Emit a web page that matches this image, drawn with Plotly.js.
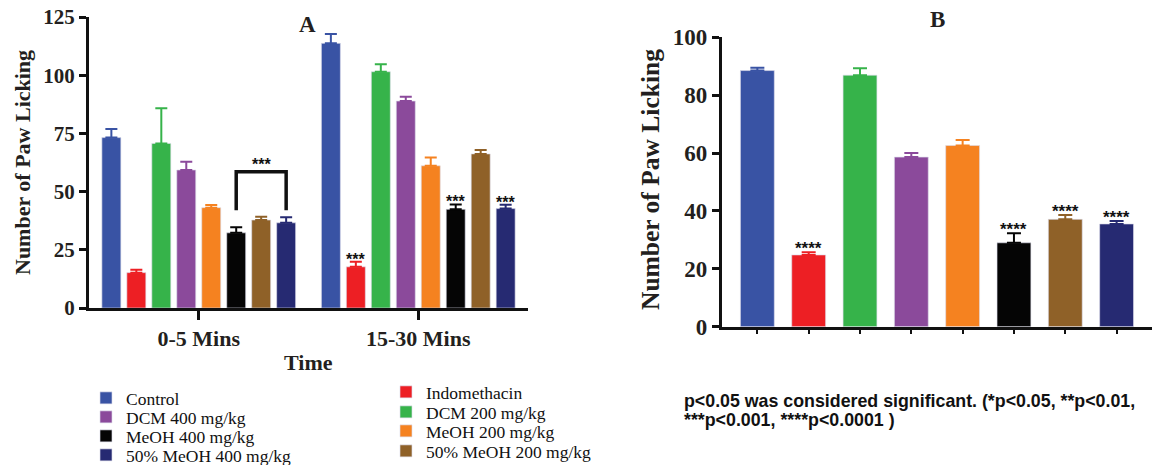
<!DOCTYPE html>
<html>
<head>
<meta charset="utf-8">
<script src="https://cdn.plot.ly/plotly-3.0.1.min.js"></script>
<style>html,body{margin:0;padding:0;background:#fff;}#chart{width:1162px;height:465px;}</style>
</head>
<body>
<div id="chart"></div>
<script>
// ---- data ----
const groups = ['Control', 'Indomethacin', 'DCM 200 mg/kg', 'DCM 400 mg/kg', 'MeOH 200 mg/kg', 'MeOH 400 mg/kg', '50% MeOH 200 mg/kg', '50% MeOH 400 mg/kg'];
const timeCats = ['0-5 Mins', '15-30 Mins'];
const earlyMean = [73.2, 15.2, 70.7, 59.3, 43.1, 32.3, 37.8, 36.6];
const earlyErr = [3.7, 1.2, 15.1, 3.5, 1.1, 2.4, 1.4, 2.4];
const lateMean = [113.7, 17.7, 101.5, 88.9, 61.1, 42.4, 66.2, 42.7];
const lateErr = [4.0, 2.2, 3.2, 1.9, 3.6, 2.1, 1.7, 1.7];
const totalMean = [88.5, 24.8, 86.9, 58.6, 62.6, 29.0, 37.1, 35.5];
const totalErr = [1.0, 0.9, 2.4, 1.4, 1.9, 3.3, 1.5, 1.0];
const starsLate = ['', '***', '', '', '', '***', '', '***'];
const starsTotal = ['', '****', '', '', '', '****', '****', '****'];
const colors = ['#3953a4', '#ed1f24', '#36b34a', '#8b4a9b', '#f58220', '#050505', '#8f6128', '#262a72'];
// legend layout: each entry in its own legend box (column, row)
const legendSlot = [[0, 0], [1, 0], [1, 1], [0, 1], [1, 2], [0, 2], [1, 3], [0, 3]];

const SERIF = 'Liberation Serif, Times New Roman, serif';
const SANS = 'Liberation Sans, Arial, sans-serif';
const bargap = 0.09;
const slot = (1 - bargap) / groups.length;
const legendIds = groups.map((g, i) => i === 0 ? 'legend' : 'legend' + (i + 1));

const traces = [];
groups.forEach((g, i) => {
  traces.push({
    type: 'bar', name: g, x: timeCats, y: [earlyMean[i], lateMean[i]],
    xaxis: 'x', yaxis: 'y', legend: legendIds[i],
    marker: {color: colors[i], line: {color: 'rgba(220,220,235,0.8)', width: 0.8}},
    error_y: {type: 'data', symmetric: false, array: [earlyErr[i], lateErr[i]], arrayminus: [0, 0],
              color: colors[i], thickness: 2, width: 6}
  });
});
groups.forEach((g, i) => {
  traces.push({
    type: 'bar', name: g, x: [g], y: [totalMean[i]],
    xaxis: 'x2', yaxis: 'y2', showlegend: false, offsetgroup: 'b', width: 0.66,
    marker: {color: colors[i], line: {color: 'rgba(220,220,235,0.8)', width: 0.8}},
    error_y: {type: 'data', symmetric: false, array: [totalErr[i]], arrayminus: [0],
              color: colors[i], thickness: 2, width: 7}
  });
});

const annotations = [];
// stars panel A (late)
starsLate.forEach((s, i) => {
  if (!s) return;
  annotations.push({xref: 'x', yref: 'y', x: 1 + (i - 3.5) * slot, y: lateMean[i] + lateErr[i],
    text: s, showarrow: false, xanchor: 'center', yanchor: 'bottom', yshift: -8,
    font: {family: SANS, size: 16, weight: 'bold', color: '#111'}});
});
// stars panel B
starsTotal.forEach((s, i) => {
  if (!s) return;
  annotations.push({xref: 'x2', yref: 'y2', x: i, y: totalMean[i] + totalErr[i],
    text: s, showarrow: false, xanchor: 'center', yanchor: 'bottom', yshift: -8,
    font: {family: SANS, size: 17, weight: 'bold', color: '#111'}});
});
// bracket between MeOH 400 and 50% MeOH 400 in 0-5 Mins
const bL = (5 - 3.5) * slot, bR = (7 - 3.5) * slot;
const legY = Math.max(earlyMean[5] + earlyErr[5], earlyMean[7] + earlyErr[7]) + 3;
const topY = legY + 16.5;
const shapes = [{type: 'path', xref: 'x', yref: 'y',
  path: `M ${bL},${legY} L ${bL},${topY} L ${bR},${topY} L ${bR},${legY}`,
  line: {color: '#111', width: 3.5}}];
annotations.push({xref: 'x', yref: 'y', x: (bL + bR) / 2, y: topY, text: '***', showarrow: false,
  xanchor: 'center', yanchor: 'bottom', yshift: -3, font: {family: SANS, size: 16, weight: 'bold', color: '#111'}});

// titles
const titleFont = (s) => ({family: SERIF, size: s, weight: 'bold', color: '#231f20'});
const py = (px) => 1 - px / 465;
const pxx = (px) => px / 1162;
const centered = {showarrow: false, xanchor: 'center', yanchor: 'middle', xref: 'paper', yref: 'paper'};
annotations.push(Object.assign({}, centered, {x: pxx(22), y: py(163), text: 'Number of Paw Licking',
  textangle: -90, font: titleFont(22)}));
annotations.push(Object.assign({}, centered, {x: pxx(650), y: py(180), text: 'Number of Paw Licking',
  textangle: -90, font: titleFont(25.5)}));
annotations.push(Object.assign({}, centered, {x: pxx(308), y: py(362), text: 'Time', font: titleFont(22)}));
annotations.push(Object.assign({}, centered, {x: pxx(307), y: py(25), text: 'A', font: titleFont(23)}));
annotations.push(Object.assign({}, centered, {x: pxx(937), y: py(20), text: 'B', font: titleFont(23)}));
const noteFont = {family: SANS, size: 17.8, weight: 'bold', color: '#111'};
annotations.push(Object.assign({}, centered, {x: pxx(682), y: py(401), xanchor: 'left', align: 'left',
  text: 'p<0.05 was considered significant. (*p<0.05, **p<0.01,', font: noteFont}));
annotations.push(Object.assign({}, centered, {x: pxx(682), y: py(420), xanchor: 'left', align: 'left',
  text: '***p<0.001, ****p<0.0001 )', font: noteFont}));

const axisCommon = {showline: true, linewidth: 3, linecolor: '#111', ticks: 'outside', tickwidth: 3,
  tickcolor: '#111', showgrid: false, zeroline: false, fixedrange: true};

const legendCommon = {orientation: 'v', bgcolor: 'rgba(0,0,0,0)', borderwidth: 0, yanchor: 'middle',
  xanchor: 'left', font: {family: SERIF, size: 17.5, color: '#111'}, itemclick: false};
const legendColX = [86, 386];
const legendRowY = [[398, 417, 436, 455], [392, 412, 431, 451]];

const layout = {
  width: 1162, height: 465,
  margin: {l: 0, r: 0, t: 0, b: 0, autoexpand: false},
  paper_bgcolor: '#fff', plot_bgcolor: '#fff',
  barmode: 'group', bargap: bargap, bargroupgap: 0.24,
  xaxis: Object.assign({}, axisCommon, {domain: [0.0766, 0.4544], anchor: 'y', type: 'category',
    range: [-0.5, 1.5], ticklen: 9, tickfont: {family: SERIF, size: 22, weight: 'bold', color: '#231f20'}}),
  yaxis: Object.assign({}, axisCommon, {domain: [0.3376, 0.9634], anchor: 'x', range: [0, 125],
    dtick: 25, ticklen: 7, tickfont: {family: SERIF, size: 21, weight: 'bold', color: '#231f20'}}),
  xaxis2: Object.assign({}, axisCommon, {domain: [0.6213, 0.9914], anchor: 'y2', type: 'category',
    range: [-0.69, 7.69], ticklen: 4, tickwidth: 2, showticklabels: false}),
  yaxis2: Object.assign({}, axisCommon, {domain: [0.2974, 0.9198], anchor: 'x2', range: [0, 100],
    dtick: 20, ticklen: 7, tickfont: {family: SERIF, size: 23, weight: 'bold', color: '#231f20'}}),
  annotations: annotations,
  shapes: shapes,
  showlegend: true
};
legendIds.forEach((id, i) => {
  const [c, r] = legendSlot[i];
  layout[id] = Object.assign({}, legendCommon, {x: pxx(legendColX[c]), y: py(legendRowY[c][r])});
});

Plotly.newPlot('chart', traces, layout, {displayModeBar: false, staticPlot: true});
</script>
</body>
</html>
